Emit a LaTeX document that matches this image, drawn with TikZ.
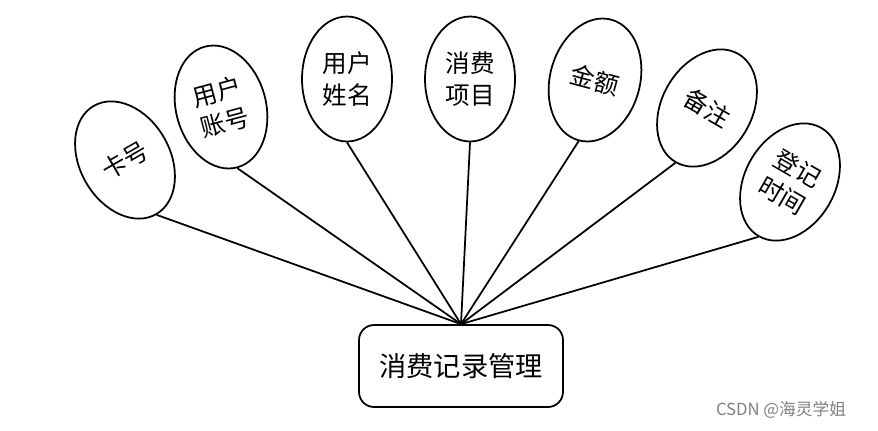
\documentclass[tikz,border=0pt]{standalone}
\usepackage{fontspec}
\setmainfont{Noto Sans CJK SC}
\usetikzlibrary{shapes.geometric}

\begin{document}
\begin{tikzpicture}[x=0.02cm, y=-0.02cm,
    attr/.style={ellipse, draw=black, line width=1pt,
                minimum width=1.8cm, minimum height=2.5cm, inner sep=0pt,
                align=center, font=\fontsize{14}{18}\selectfont},
    mgrbox/.style={rectangle, draw=black, line width=1pt, rounded corners=0.3cm,
                minimum width=4.08cm, minimum height=1.64cm,
                font=\fontsize{15.5}{18}\selectfont},
    link/.style={line width=1pt},
]
\useasboundingbox (0,0) rectangle (878,430);

% central entity
\node[mgrbox] (mgr) at (461,366) {消费记录管理};

% attributes
\node[attr, rotate=30] (card) at (125,160) {卡号};
\node[attr, rotate=15] (acct) at (221,107) {用户\\账号};
\node[attr] (uname) at (347,79) {用户\\姓名};
\node[attr] (item) at (470,79) {消费\\项目};
\node[attr, rotate=-15] (amount) at (595,80) {金额};
\node[attr, rotate=-30] (note) at (707,108) {备注};
\node[attr, rotate=-30] (rtime) at (790,182) {登记\\时间};

% links
\draw[link] (mgr.north) -- (card.south);
\draw[link] (mgr.north) -- (acct.south);
\draw[link] (mgr.north) -- (uname.south);
\draw[link] (mgr.north) -- (item.south);
\draw[link] (mgr.north) -- (amount.south);
\draw[link] (mgr.north) -- (note.south);
\draw[link] (mgr.north) -- (rtime.south);

% watermark
\node[font=\fontsize{9.5}{11}\selectfont, text=gray] (mark) at (781,410) {CSDN @海灵学姐};

\end{tikzpicture}
\end{document}
